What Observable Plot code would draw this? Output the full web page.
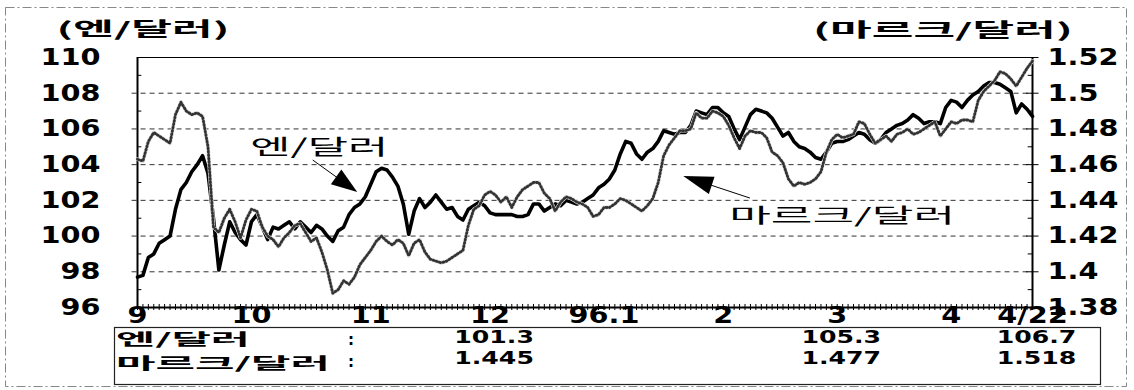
<!DOCTYPE html>
<html><head><meta charset="utf-8">
<script src="https://cdn.jsdelivr.net/npm/d3@7"></script>
<script src="https://cdn.jsdelivr.net/npm/@observablehq/plot@0.6"></script>
<style>body{margin:0;background:#fff}</style>
</head><body><div id="chart"></div>
<script>
// Daily (business-day) closes, 1995-09-01 .. 1996-04-22
const yen = [
 97.7, 97.8, 98.8, 99.0, 99.6, 99.8, 100.0, 101.5, 102.6, 103.0,
 103.6, 104.0, 104.5, 103.5, 101.0, 98.1, 99.5, 100.8, 100.2, 99.8,
 99.5, 100.8, 101.2, 100.5, 99.8, 100.5, 100.4, 100.6, 100.8, 100.4,
 100.8, 100.5, 100.2, 100.6, 100.4, 100.0, 99.7, 100.3, 100.5, 101.2,
 101.6, 101.8, 102.2, 102.9, 103.6, 103.8, 103.7, 103.3, 102.8, 101.8,
 100.1, 101.4, 102.1, 101.6, 101.9, 102.3, 101.9, 101.5, 101.6, 101.1,
 100.9, 101.5, 101.7, 101.9, 101.7, 101.3, 101.2, 101.2, 101.2, 101.2,
 101.1, 101.1, 101.2, 101.8, 101.8, 101.4, 101.6, 101.8, 101.7, 102.0,
 101.9, 101.8, 101.9, 102.1, 102.3, 102.7, 102.9, 103.2, 103.7, 104.6,
 105.3, 105.2, 104.6, 104.3, 104.7, 104.9, 105.3, 105.9, 105.8, 105.7,
 105.8, 105.8, 106.2, 107.0, 106.9, 106.8, 107.2, 107.2, 106.9, 106.7,
 106.0, 105.4, 106.1, 106.8, 107.1, 107.0, 106.9, 106.6, 106.1, 105.6,
 105.8, 105.3, 105.0, 104.9, 104.7, 104.4, 104.3, 104.7, 105.2, 105.3,
 105.3, 105.4, 105.6, 105.8, 105.7, 105.4, 105.2, 105.4, 105.8, 106.0,
 106.2, 106.3, 106.5, 106.8, 106.6, 106.3, 106.4, 106.4, 106.3, 107.2,
 107.6, 107.5, 107.2, 107.6, 107.9, 108.1, 108.4, 108.6, 108.6, 108.5,
 108.3, 108.1, 106.9, 107.4, 107.1, 106.7
];
const mark = [
 1.463, 1.462, 1.473, 1.478, 1.476, 1.474, 1.472, 1.488, 1.495, 1.490,
 1.488, 1.489, 1.487, 1.470, 1.425, 1.422, 1.430, 1.435, 1.428, 1.419,
 1.429, 1.435, 1.434, 1.425, 1.420, 1.418, 1.414, 1.419, 1.422, 1.426,
 1.427, 1.422, 1.417, 1.419, 1.411, 1.401, 1.388, 1.390, 1.395, 1.393,
 1.397, 1.404, 1.408, 1.412, 1.417, 1.420, 1.417, 1.415, 1.418, 1.416,
 1.409, 1.416, 1.418, 1.411, 1.407, 1.406, 1.405, 1.406, 1.408, 1.410,
 1.412, 1.426, 1.435, 1.437, 1.443, 1.445, 1.443, 1.439, 1.442, 1.436,
 1.442, 1.446, 1.448, 1.450, 1.450, 1.444, 1.441, 1.434, 1.439, 1.442,
 1.441, 1.439, 1.438, 1.436, 1.431, 1.432, 1.436, 1.436, 1.438, 1.441,
 1.440, 1.438, 1.436, 1.434, 1.437, 1.441, 1.450, 1.465, 1.471, 1.475,
 1.479, 1.479, 1.480, 1.489, 1.486, 1.486, 1.490, 1.489, 1.487, 1.482,
 1.475, 1.469, 1.476, 1.479, 1.478, 1.478, 1.475, 1.467, 1.465, 1.461,
 1.452, 1.448, 1.450, 1.449, 1.450, 1.452, 1.456, 1.467, 1.474, 1.477,
 1.475, 1.476, 1.477, 1.484, 1.483, 1.477, 1.472, 1.474, 1.476, 1.473,
 1.477, 1.478, 1.480, 1.477, 1.478, 1.480, 1.482, 1.484, 1.476, 1.480,
 1.484, 1.483, 1.485, 1.485, 1.484, 1.496, 1.501, 1.504, 1.507, 1.512,
 1.511, 1.508, 1.504, 1.509, 1.514, 1.518
];
const yenTicks = [96, 98, 100, 102, 104, 106, 108, 110];
const yenTickLabels = ["96", "98", "100", "102", "104", "106", "108", "110"];
const markTicks = [1.38, 1.40, 1.42, 1.44, 1.46, 1.48, 1.50, 1.52];
const markTickLabels = ["1.38", "1.4", "1.42", "1.44", "1.46", "1.48", "1.5", "1.52"];
const monthDays = [0, 21, 43, 65, 86, 108, 129, 150, 165];
const monthLabels = ["9", "10", "11", "12", "96.1", "2", "3", "4", "4/22"];
const tableDays = [65, 129, 165];
const tableYen = ["101.3", "105.3", "106.7"];
const tableMark = ["1.445", "1.477", "1.518"];
const seriesNames = ["엔/달러", "마르크/달러"];
const unitLabels = ["(엔/달러)", "(마르크/달러)"];

// right axis 1.38–1.52 shares the frame with left axis 96–110
const toYen = m => 96 + (m - 1.38) * 100;
const days = d3.range(yen.length);
const lastDay = yen.length - 1;

const num = {fontFamily: "DejaVu Sans", fontWeight: "bold", fill: "black"};

const chart = Plot.plot({
  width: 1134, height: 390,
  marginLeft: 137, marginRight: 102, marginTop: 57, marginBottom: 83,
  x: {domain: [0, lastDay], axis: null},
  y: {domain: [96, 110], axis: null},
  style: {background: "white", overflow: "visible"},
  marks: [
    Plot.ruleY(yenTicks.slice(1, -1), {x1: -1, x2: lastDay, stroke: "#333", strokeWidth: 1, strokeDasharray: "5,4"}),
    Plot.ruleY(d3.range(97, 110, 2), {x1: 0, x2: 0.8, stroke: "black"}),
    Plot.ruleY(d3.range(97, 110, 2), {x1: lastDay - 0.8, x2: lastDay, stroke: "black"}),
    Plot.ruleY(yenTicks, {x1: lastDay - 1.1, x2: lastDay + 1.2, stroke: "black"}),
    Plot.ruleX(days, {y1: 95.83, y2: 96.17, stroke: "black", strokeWidth: 1}),
    Plot.ruleY([110], {x1: 0, x2: lastDay, stroke: "black", strokeWidth: 1.2}),
    Plot.ruleY([96], {x1: 0, x2: lastDay, stroke: "black", strokeWidth: 2}),
    Plot.ruleX([0, lastDay], {y1: 96, y2: 110, stroke: "black", strokeWidth: 2}),
    Plot.line(yen, {x: (d, i) => i, y: d => d, stroke: "black", strokeWidth: 3.6, strokeLinejoin: "round"}),
    Plot.line(mark, {x: (d, i) => i, y: toYen, stroke: "#dcdcdc", strokeWidth: 3.8, strokeLinejoin: "round"}),
    Plot.line(mark, {x: (d, i) => i, y: toYen, stroke: "#333", strokeWidth: 2.8, strokeDasharray: "1,2.4"}),
    Plot.text(yenTickLabels, {y: (d, i) => yenTicks[i], frameAnchor: "left", dx: -37, textAnchor: "end", fontSize: 23, ...num}),
    Plot.text(markTickLabels, {y: (d, i) => toYen(markTicks[i]), frameAnchor: "right", dx: 15, textAnchor: "start", fontSize: 23, ...num}),
    Plot.text(monthLabels, {x: (d, i) => monthDays[i], frameAnchor: "bottom", dy: 15, fontSize: 23, ...num}),
    Plot.text(tableYen, {x: (d, i) => tableDays[i], frameAnchor: "bottom", dy: 35, dx: 4, fontSize: 18, ...num}),
    Plot.text(tableMark, {x: (d, i) => tableDays[i], frameAnchor: "bottom", dy: 56, dx: 4, fontSize: 18, ...num})
  ]
});
document.getElementById("chart").appendChild(chart);

// widen the heavy numerals like the original typeface
chart.querySelectorAll("text").forEach(el => {
  const fs = parseFloat(el.closest("[font-size]")?.getAttribute("font-size") || 23);
  const f = fs < 20 ? 1.4 : 1.25;
  const w = el.getComputedTextLength();
  el.setAttribute("textLength", (w * f).toFixed(1));
  el.setAttribute("lengthAdjust", "spacingAndGlyphs");
});

const svg = d3.select(chart);
const sx = chart.scale("x"), sy = chart.scale("y");
const X = d3.scaleLinear(sx.domain, sx.range), Y = d3.scaleLinear(sy.domain, sy.range);

function addText(str, x, y, width, o = {}) {
  const t = svg.append("text").text(str)
    .attr("x", x).attr("y", y)
    .attr("font-family", o.family || "'Noto Sans CJK KR', sans-serif")
    .attr("font-size", o.size || 19).attr("font-weight", o.weight || "bold")
    .attr("text-anchor", o.anchor || "middle").attr("dominant-baseline", "central")
    .attr("fill", "black");
  if (width) t.attr("textLength", width).attr("lengthAdjust", "spacingAndGlyphs");
  return t;
}
function arrow(x1, y1, x2, y2, len, half) {
  const dx = x2 - x1, dy = y2 - y1, L = Math.hypot(dx, dy), ux = dx / L, uy = dy / L;
  const bx = x2 - ux * len, by = y2 - uy * len;
  svg.append("line").attr("x1", x1).attr("y1", y1).attr("x2", bx + ux * 3).attr("y2", by + uy * 3)
    .attr("stroke", "black").attr("stroke-width", 1);
  svg.append("path").attr("d", `M${x2},${y2}L${bx - uy * half},${by + ux * half}L${bx + uy * half},${by - ux * half}Z`)
    .attr("fill", "black");
}

// outer scan frame
svg.append("rect").attr("x", 5.5).attr("y", 7.5).attr("width", 1121).attr("height", 379)
  .attr("fill", "none").attr("stroke", "#888").attr("stroke-width", 1).attr("stroke-dasharray", "9,3,2,3");

// unit titles
addText(unitLabels[0], 143, 27, 173, {size: 19});
addText(unitLabels[1], 943, 28, 260, {size: 19});

// series annotations with arrows
addText(seriesNames[0], X(33.6), Y(105.07), 138, {size: 21, weight: 400});
addText(seriesNames[1], X(130.0), Y(101.2), 226, {size: 20, weight: 400});
arrow(X(32.4), Y(104.23), X(40.6), Y(102.44), 26, 9);
arrow(X(113.0), Y(102.1), X(100.7), Y(103.34), 30, 9);

// table
svg.append("rect").attr("x", 114.5).attr("y", 327.5).attr("width", 986).attr("height", 57)
  .attr("fill", "none").attr("stroke", "#222").attr("stroke-width", 1.2);
addText(seriesNames[0], 116, 338, 134, {size: 16, anchor: "start"});
addText(seriesNames[1], 116, 362, 214, {size: 16, anchor: "start"});
addText(":", 351, 340, null, {size: 15, family: "DejaVu Sans"});
addText(":", 351, 362, null, {size: 15, family: "DejaVu Sans"});
</script></body></html>
